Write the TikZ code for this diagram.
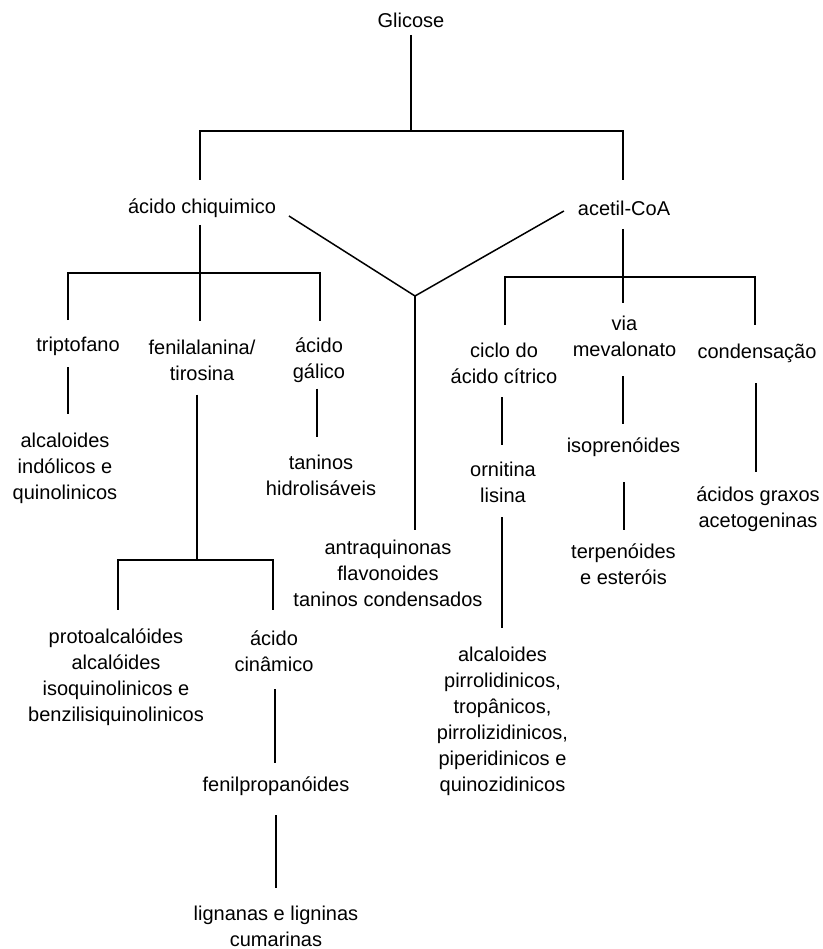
\documentclass[tikz,border=0pt]{standalone}
\usepackage{fontspec}
\setmainfont{Liberation Sans}
\usetikzlibrary{calc}
\tikzset{
  lbl/.style={inner sep=0pt, outer sep=0pt, align=center, font=\fontsize{20}{26}\selectfont},
  link/.style={line width=1.5pt, draw=black}
}
\newcommand{\sr}{\strut}
\begin{document}
\begin{tikzpicture}[x=1pt, y=-1pt]
\fill[white] (0,0) rectangle (822,949);
\useasboundingbox (0,0) rectangle (822,949);

% nodes
\node[lbl] (glicose) at (411,22) {\sr Glicose};
\node[lbl] (chiq) at (202,208) {\sr ácido chiquimico};
\node[lbl] (acetil) at (624,210) {\sr acetil-CoA};

\node[lbl] (trip) at (78,346) {\sr triptofano};
\node[lbl] (fenil) at (202,362.5) {\sr fenilalanina/\\\sr tirosina};
\node[lbl] (galico) at (319,360.5) {\sr ácido\\\sr gálico};

\node[lbl] (alc1) at (65,468) {\sr alcaloides\\\sr indólicos e\\\sr quinolinicos};
\node[lbl] (tanh) at (321,477) {\sr taninos\\\sr hidrolisáveis};
\node[lbl] (antra) at (388,575) {\sr antraquinonas\\\sr flavonoides\\\sr taninos condensados};

\node[lbl] (ciclo) at (504,365) {\sr ciclo do\\\sr ácido cítrico};
\node[lbl] (via) at (624.5,338.5) {\sr via\\\sr mevalonato};
\node[lbl] (cond) at (757,353) {\sr condensação};

\node[lbl] (ornit) at (503,484) {\sr ornitina\\\sr lisina};
\node[lbl] (iso) at (623.5,447) {\sr isoprenóides};
\node[lbl] (terp) at (623.5,566.5) {\sr terpenóides\\\sr e esteróis};
\node[lbl] (acg) at (758,509) {\sr ácidos graxos\\\sr acetogeninas};

\node[lbl] (alcp) at (502.5,721.5) {\sr alcaloides\\\sr pirrolidinicos,\\\sr tropânicos,\\\sr pirrolizidinicos,\\\sr piperidinicos e\\\sr quinozidinicos};

\node[lbl] (proto) at (116,677.5) {\sr protoalcalóides\\\sr alcalóides\\\sr isoquinolinicos e\\\sr benzilisiquinolinicos};
\node[lbl] (cina) at (274,653) {\sr ácido\\\sr cinâmico};
\node[lbl] (fenilp) at (276,786) {\sr fenilpropanóides};
\node[lbl] (lign) at (276,928) {\sr lignanas e ligninas\\\sr cumarinas};

% junctions
\coordinate (j0) at (411,131);
\coordinate (jv) at (415,296);
\coordinate (j1) at (200,273);
\coordinate (j2) at (623,277);
\coordinate (j3) at (197,560);

% connectors
\draw[link] (glicose.south) -- (j0);
\draw[link] ($(chiq.north)+(-2,-15)$) |- (j0) -| ($(acetil.north)+(-1,-17)$);
\draw[link] ($(chiq.east)+(13,8)$) -- (jv) -- ($(acetil.west)+(-14,1)$);
\draw[link] (jv) -- ($(jv |- antra.north)+(0,-6)$);

\draw[link] ($(chiq.south)+(-2,4)$) -- (j1);
\draw[link] ($(trip.north)+(-10,-13)$) |- (j1) -| ($(galico.north)+(1,-14)$);
\draw[link] (j1) -- ($(j1 |- fenil.north)+(0,-16)$);
\draw[link] ($(trip.south)+(-10,8)$) -- ($(trip.south |- alc1.north)+(-10,-15)$);
\draw[link] ($(fenil.south)+(-5,6)$) -- (j3);
\draw[link] ($(proto.north)+(2,-16)$) |- (j3) -| ($(cina.north)+(-1,-17)$);
\draw[link] ($(galico.south)+(-2,2)$) -- ($(galico.south |- tanh.north)+(-2,-14)$);

\draw[link] ($(acetil.south)+(-1,6)$) -- ($(acetil.south |- via.north)+(-1,-10)$);
\draw[link] ($(ciclo.north)+(1,-14)$) |- (j2) -| ($(cond.north)+(-2,-15)$);
\draw[link] ($(ciclo.south)+(-2,6)$) -- ($(ciclo.south |- ornit.north)+(-2,-13)$);
\draw[link] ($(ornit.south)+(-1,7)$) -- ($(ornit.south |- alcp.north)+(-1,-15.5)$);
\draw[link] ($(via.south)+(-1.5,11.5)$) -- ($(via.south |- iso.north)+(-1.5,-10)$);
\draw[link] ($(iso.south)+(0.5,22)$) -- ($(iso.south |- terp.north)+(0.5,-10.5)$);
\draw[link] ($(cond.south)+(-1,17)$) -- ($(cond.south |- acg.north)+(-1,-11)$);
\draw[link] ($(cina.south)+(1,10)$) -- ($(cina.south |- fenilp.north)+(1,-10)$);
\draw[link] ($(fenilp.south)+(0,16)$) -- ($(fenilp.south |- lign.north)+(0,-14)$);
\end{tikzpicture}
\end{document}
